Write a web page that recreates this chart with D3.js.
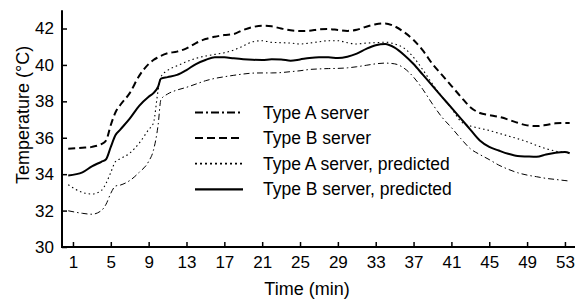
<!DOCTYPE html>
<html>
<head>
<meta charset="utf-8">
<script src="https://cdn.jsdelivr.net/npm/d3@7"></script>
<style>
  html, body { margin: 0; padding: 0; background: #fff; }
  svg { display: block; font-family: "Liberation Sans", Arial, sans-serif; }
</style>
</head>
<body>
<svg id="chart" width="579" height="302"></svg>
<script>
// ---- data ----
const time = [0.5, 2, 3, 4, 4.5, 5, 5.5, 6, 7, 8, 9, 9.5, 10, 10.3, 11, 12, 13, 14, 15, 16, 17, 18, 19, 20, 21, 22, 23, 24, 25, 26, 27, 28, 29, 30, 31, 32, 33, 34, 35, 36, 37, 38, 39, 40, 41, 42, 43, 44, 45, 46, 47, 48, 49, 50, 51, 52, 53, 53.5];

const typeA = [31.99, 31.85, 31.8, 32.0, 32.35, 32.95, 33.35, 33.4, 33.65, 34.1, 34.7, 35.3, 36.7, 38.1, 38.4, 38.62,
  38.77, 38.95, 39.13, 39.26, 39.35, 39.43, 39.5, 39.55, 39.56, 39.56, 39.58, 39.63, 39.68, 39.75, 39.78, 39.8, 39.81, 39.84, 39.9, 39.98, 40.06, 40.1, 40.06, 39.82,
  39.33, 38.64, 37.85, 37.13, 36.56, 35.95, 35.4, 35.08, 34.8, 34.5, 34.27, 34.08, 33.95, 33.86, 33.77, 33.71, 33.65, 33.62];

const typeB = [35.4, 35.45, 35.5, 35.65, 35.85, 36.7, 37.4, 37.8, 38.45, 39.4, 40.05, 40.27, 40.42, 40.5, 40.64, 40.73,
  40.91, 41.2, 41.42, 41.55, 41.64, 41.7, 41.92, 42.08, 42.15, 42.12, 42.0, 41.9, 41.86, 41.88, 41.95, 41.97, 41.92, 41.87, 41.93, 42.1, 42.23, 42.28, 42.12, 41.8,
  41.37, 40.78, 40.05, 39.45, 38.85, 38.25, 37.68, 37.36, 37.25, 37.15, 37.0, 36.82, 36.68, 36.64, 36.7, 36.79, 36.81, 36.81];

const typeAPred = [33.42, 33.0, 32.91, 33.1, 33.5, 34.1, 34.7, 34.85, 35.15, 35.7, 36.45, 36.8, 38.6, 39.35, 39.7, 39.95,
  40.18, 40.36, 40.49, 40.58, 40.67, 40.82, 41.04, 41.27, 41.33, 41.24, 41.22, 41.2, 41.15, 41.2, 41.27, 41.33, 41.33, 41.22, 41.15, 41.2, 41.22, 41.25, 41.15, 40.92,
  40.42, 39.72, 38.95, 38.25, 37.62, 36.9, 36.65, 36.52, 36.4, 36.25, 36.1, 35.95, 35.78, 35.58, 35.4, 35.27, 35.2, 35.18];

const typeBPred = [33.93, 34.1, 34.43, 34.68, 34.82, 35.5, 36.15, 36.45, 37.05, 37.75, 38.25, 38.45, 38.8, 39.25, 39.33, 39.45,
  39.72, 40.05, 40.27, 40.42, 40.42, 40.36, 40.31, 40.28, 40.27, 40.31, 40.3, 40.23, 40.3, 40.38, 40.42, 40.42, 40.38, 40.45, 40.62, 40.88, 41.08, 41.15, 40.95, 40.55,
  40.05, 39.45, 38.85, 38.25, 37.65, 37.05, 36.45, 35.85, 35.5, 35.3, 35.12, 35.0, 34.97, 34.95, 35.08, 35.18, 35.22, 35.15];

const xTicks = [1, 5, 9, 13, 17, 21, 25, 29, 33, 37, 41, 45, 49, 53];
const yTicks = [30, 32, 34, 36, 38, 40, 42];
const seriesNames = ["Type A server", "Type B server", "Type A server, predicted", "Type B server, predicted"];

// ---- layout ----
const svg = d3.select("#chart");
const x = d3.scaleLinear().domain([0, 54]).range([63.5, 574.4]);
const y = d3.scaleLinear().domain([30, 43]).range([247, 10.3]);

const styles = [
  { data: typeA, width: 1, dash: "6,3,1.5,3", lwidth: 2, ldash: "8,3,2,3" },
  { data: typeB, width: 2, dash: "7,4", lwidth: 2, ldash: "8,4" },
  { data: typeAPred, width: 1.1, dash: "1.5,3", lwidth: 1.8, ldash: "2,3" },
  { data: typeBPred, width: 2, dash: null, lwidth: 2.2, ldash: null }
];

const line = d3.line().curve(d3.curveMonotoneX);

styles.forEach(s => {
  const pts = time.map((t, i) => [x(t), y(s.data[i])]);
  svg.append("path")
    .attr("d", line(pts))
    .attr("fill", "none")
    .attr("stroke", "#000")
    .attr("stroke-width", s.width)
    .attr("stroke-dasharray", s.dash);
});

// ---- axes ----
const xAxis = d3.axisBottom(x).tickValues(xTicks).tickSizeInner(-5).tickSizeOuter(0).tickPadding(9);
const gx = svg.append("g").attr("transform", "translate(0,247)").call(xAxis);
gx.select(".domain").remove();
gx.selectAll(".tick line").attr("stroke", "#000").attr("stroke-width", 1.5);
gx.selectAll(".tick text").attr("font-size", 17).attr("fill", "#000")
  .attr("font-family", "Liberation Sans, Arial, sans-serif");

const yAxis = d3.axisLeft(y).tickValues(yTicks).tickSizeInner(-5).tickSizeOuter(0).tickPadding(8);
const gy = svg.append("g").attr("transform", "translate(62,0)").call(yAxis);
gy.select(".domain").remove();
gy.selectAll(".tick line").attr("stroke", "#000").attr("stroke-width", 1.5);
gy.selectAll(".tick text").attr("font-size", 17).attr("fill", "#000")
  .attr("font-family", "Liberation Sans, Arial, sans-serif");

svg.append("line").attr("x1", 62).attr("x2", 62).attr("y1", y(43)).attr("y2", 248)
  .attr("stroke", "#000").attr("stroke-width", 2);
svg.append("line").attr("x1", 61).attr("x2", 575).attr("y1", 247).attr("y2", 247)
  .attr("stroke", "#000").attr("stroke-width", 2);

// axis titles
svg.append("text").attr("x", 307).attr("y", 295).attr("text-anchor", "middle")
  .attr("font-size", 18).attr("fill", "#000").text("Time (min)");
svg.append("text").attr("transform", "translate(29,115) rotate(-90)").attr("text-anchor", "middle")
  .attr("font-size", 18).attr("fill", "#000").text("Temperature (°C)");

// ---- legend ----
styles.forEach((s, i) => {
  const ly = 112.5 + i * 25.6;
  svg.append("line").attr("x1", 195).attr("x2", 243).attr("y1", ly).attr("y2", ly)
    .attr("stroke", "#000").attr("stroke-width", s.lwidth).attr("stroke-dasharray", s.ldash);
  svg.append("text").attr("x", 263).attr("y", ly + 6).attr("font-size", 17.5).attr("fill", "#000")
    .text(seriesNames[i]);
});
</script>
</body>
</html>
